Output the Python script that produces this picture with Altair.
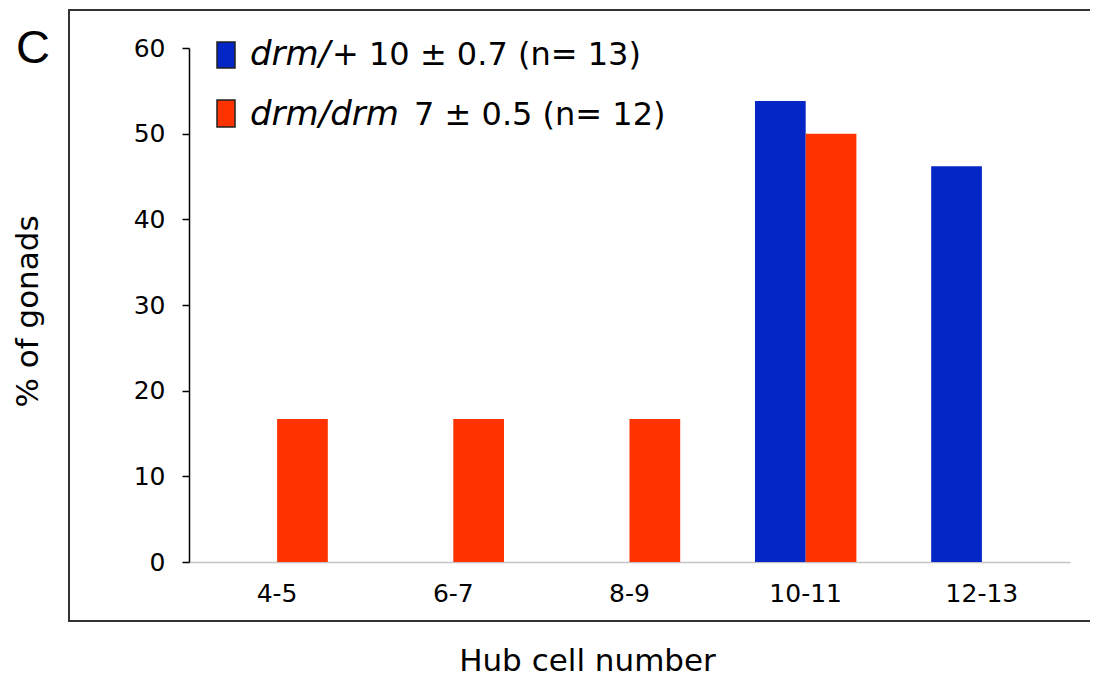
import altair as alt
import pandas as pd

categories = ["4-5", "6-7", "8-9", "10-11", "12-13"]
series = ["drm/+", "drm/drm"]
het_values = [0, 0, 0, 53.8, 46.2]      # drm/+
hom_values = [16.7, 16.7, 16.7, 50.0, 0]  # drm/drm
colors = ["#0426C6", "#FF3300"]
y_ticks = [0, 10, 20, 30, 40, 50, 60]
legend_italic = ["drm/", "drm/drm"]
legend_plain = ["+ 10 \u00b1 0.7 (n= 13)", "7 \u00b1 0.5 (n= 12)"]

rows = []
for c, a, b in zip(categories, het_values, hom_values):
    rows.append({"cat": c, "series": series[0], "value": a})
    rows.append({"cat": c, "series": series[1], "value": b})
df = pd.DataFrame(rows)

W, H = 881, 514
FONT = "DejaVu Sans"

frame = alt.Chart(alt.Data(values=[{}])).mark_rect(
    filled=False, stroke="#333333", strokeWidth=2
).encode(
    x=alt.value(-120), x2=alt.value(930), y=alt.value(-38), y2=alt.value(573)
)

bars = alt.Chart(df).mark_bar().encode(
    x=alt.X(
        "cat:N", sort=categories,
        scale=alt.Scale(paddingInner=0.4245, paddingOuter=0.2123),
        axis=alt.Axis(
            title="Hub cell number", labelAngle=0, ticks=False, tickSize=0,
            domainColor="#c4c4c4", domainWidth=1.5,
            labelFont=FONT, labelFontSize=25, labelColor="black", labelPadding=19,
            titleFont=FONT, titleFontSize=31, titleFontWeight="normal", titleColor="black",
            titleX=398, titleY=108, titleBaseline="alphabetic", titleAlign="center",
        ),
    ),
    xOffset=alt.XOffset("series:N", sort=series, scale=alt.Scale(paddingInner=0, paddingOuter=0)),
    y=alt.Y(
        "value:Q", scale=alt.Scale(domain=[0, 60], nice=False),
        axis=alt.Axis(
            values=y_ticks, title="% of gonads", grid=False,
            domainColor="black", domainWidth=1.5, tickColor="black", tickWidth=1.5, tickSize=7,
            labelFont=FONT, labelFontSize=25, labelColor="black", labelPadding=17,
            titleFont=FONT, titleFontSize=31, titleFontWeight="normal", titleColor="black",
            titleAngle=270, titleX=-161, titleY=263, titleAlign="center", titleBaseline="middle",
        ),
    ),
    color=alt.Color("series:N", scale=alt.Scale(domain=series, range=colors), legend=None),
)

layers = [frame, bars]

sq_y = [(-6, 20), (52, 79)]
text_y = [17, 77]
plain_x = [143, 225]
for i in range(2):
    layers.append(
        alt.Chart(alt.Data(values=[{}])).mark_rect(
            fill=colors[i], stroke="#222222", strokeWidth=1.5
        ).encode(x=alt.value(28), x2=alt.value(46), y=alt.value(sq_y[i][0]), y2=alt.value(sq_y[i][1]))
    )
    layers.append(
        alt.Chart(alt.Data(values=[{}])).mark_text(
            align="left", baseline="alphabetic", font=FONT, fontSize=34,
            fontStyle="italic", color="black", text=legend_italic[i]
        ).encode(x=alt.value(61), y=alt.value(text_y[i]))
    )
    layers.append(
        alt.Chart(alt.Data(values=[{}])).mark_text(
            align="left", baseline="alphabetic", font=FONT, fontSize=32,
            color="black", text=legend_plain[i]
        ).encode(x=alt.value(plain_x[i]), y=alt.value(text_y[i]))
    )

letter = alt.Chart(alt.Data(values=[{}])).mark_text(
    align="left", baseline="alphabetic", font="Liberation Sans", fontSize=47,
    color="black", text="C"
).encode(x=alt.value(-173), y=alt.value(15))
layers.append(letter)

chart = alt.layer(*layers).properties(
    width=W, height=H,
    autosize=alt.AutoSizeParams(type="none"),
    padding={"left": 181, "top": 40, "right": 20, "bottom": 114},
).configure_view(stroke=None)

chart.save("out.html", embed_options={"renderer": "svg", "actions": False})
